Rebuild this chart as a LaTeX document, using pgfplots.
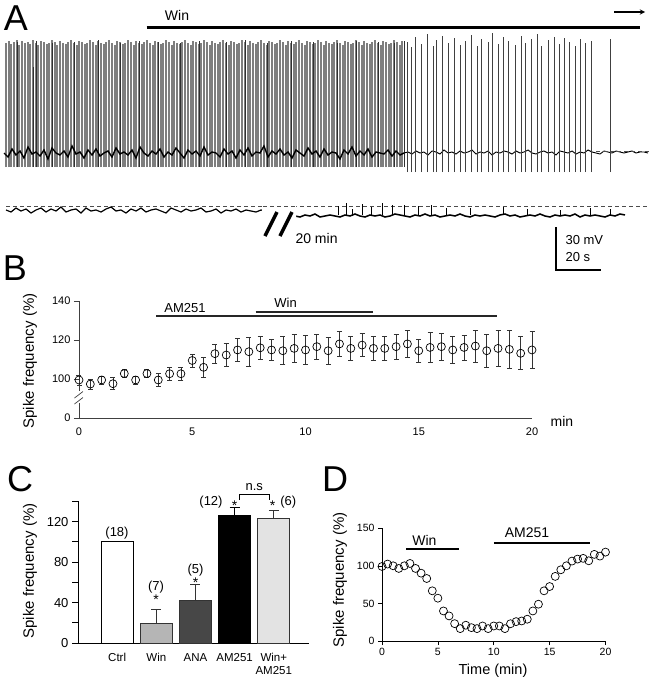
\documentclass[border=0pt]{standalone}
\usepackage{pgfplots}
\pgfplotsset{compat=1.18}
\usepackage{fontspec}
\setmainfont{Liberation Sans}
\newcommand{\f}[1]{\fontsize{#1}{#1}\selectfont}
\definecolor{sg}{HTML}{7E7E7E}
\definecolor{sd}{HTML}{303030}
\definecolor{winc}{HTML}{B5B5B5}
\definecolor{anac}{HTML}{474747}
\definecolor{wamc}{HTML}{E3E3E3}
\begin{document}
\begin{tikzpicture}[x=1pt,y=-1pt]
\useasboundingbox (0,0) rectangle (651,683);
% ---------------- Panel A: trace 1 (dense spikes) ----------------
\begin{axis}[at={(0pt,-167pt)}, anchor=south west, scale only axis, width=651pt, height=167pt,
  xmin=0, xmax=651, ymin=0, ymax=167, hide axis, clip=false]
\addplot[ycomb, draw=sg, line width=1.5pt, mark=none] coordinates {
(6,124)(9,126)(11,123)(14,125)(17,127)(19,122)(22,126)(25,124)(28,125)(30,123)
(33,127)(36,124)(38,122)(41,126)(44,125)(47,123)(49,124)(52,127)(55,125)(57,122)
(60,126)(63,124)(66,123)(68,125)(71,127)(74,124)(77,122)(79,126)(82,125)(85,123)
(87,124)(90,127)(93,125)(96,122)(98,126)(101,124)(104,123)(106,125)(109,127)(112,124)
(115,122)(117,126)(120,125)(123,123)(125,124)(128,127)(131,125)(134,122)(136,126)(139,124)
(142,123)(144,125)(147,127)(150,124)(153,122)(155,126)(158,125)(161,123)(163,124)(166,127)
(169,125)(172,122)(174,126)(177,124)(180,123)(182,125)(185,127)(188,124)(191,122)(193,126)
(196,125)(199,123)(201,124)(204,127)(207,125)(210,122)(212,126)(215,124)(218,123)(220,125)
(223,127)(226,124)(229,122)(231,126)(234,125)(237,123)(239,124)(242,127)(245,125)(248,122)
(250,126)(253,124)(256,123)(258,125)(261,127)(264,124)(267,122)(269,126)(272,125)(275,123)
(277,124)(280,127)(283,125)(286,122)(288,126)(291,124)(294,123)(296,125)(299,127)(302,124)
(305,122)(307,126)(310,125)(313,123)(315,124)(318,127)(321,125)(324,122)(326,126)(329,124)
(332,123)(334,125)(337,127)(340,124)(343,122)(345,126)(348,125)(351,123)(353,124)(356,127)
(359,125)(362,122)(364,126)(367,124)(370,123)(372,125)(375,127)(378,124)(381,122)(383,126)
(386,125)(389,123)(391,124)(394,127)(397,125)(400,122)(402,126)};
\addplot[ycomb, draw=sd, line width=1pt, mark=none] coordinates {
(17,125)(33,100)(36,126)(52,124)(74,125)(98,127)(120,124)(139,126)(158,125)(180,124)
(199,126)(226,125)(245,127)(267,124)(291,126)(313,125)(337,124)(356,126)(378,125)(394,124)(404,126)};
\addplot[black, line width=1.4pt] coordinates {
(4,14)(8,10)(12,18)(16,12)(20,16)(24,9)(28,20)(32,13)(36,15)(40,11)
(44,17)(48,8)(52,19)(56,14)(60,12)(64,16)(68,10)(72,21)(76,13)(80,15)
(84,9)(88,17)(92,12)(96,18)(100,11)(104,14)(108,16)(112,10)(116,19)(120,13)
(124,15)(128,12)(132,17)(136,9)(140,20)(144,14)(148,11)(152,16)(156,13)(160,18)
(164,10)(168,15)(172,12)(176,19)(180,14)(184,9)(188,17)(192,13)(196,16)(200,11)
(204,20)(208,12)(212,15)(216,14)(220,10)(224,18)(228,13)(232,16)(236,9)(240,17)
(244,12)(248,19)(252,11)(256,15)(260,14)(264,21)(268,10)(272,16)(276,13)(280,18)
(284,12)(288,15)(292,9)(296,17)(300,14)(304,11)(308,19)(312,13)(316,16)(320,10)
(324,18)(328,12)(332,15)(336,14)(340,8)(344,17)(348,13)(352,20)(356,11)(360,16)
(364,12)(368,18)(372,10)(376,15)(380,14)(384,13)(388,17)(392,11)(396,16)(400,12)
(404,14)};
\addplot[black, line width=0.9pt] coordinates {
(404,14)(408,15)(412,13)(416,16)(420,14)(424,15)(428,12)(432,16)(436,15)(440,13)(444,17)
(448,14)(452,15)(456,13)(460,16)(464,14)(468,15)(472,17)(476,13)(480,15)(484,14)
(488,16)(492,12)(496,15)(500,14)(504,16)(508,15)(512,13)(516,16)(520,14)(524,15)
(528,17)(532,14)(536,13)(540,15)(544,16)(548,14)(552,15)(556,12)(560,16)(564,15)
(568,14)(572,16)(576,13)(580,15)(584,14)(588,17)(592,15)(596,14)(600,13)(604,16)
(608,15)(612,14)(616,16)(620,15)(624,14)(628,15)(632,16)(636,14)(640,15)(644,15)(648,14)};
\addplot[black!70, line width=0.6pt, dash pattern=on 4pt off 3pt] coordinates {(596,16)(650,16)};
\end{axis}
% ---------------- Panel A: trace 1 (sparse spikes) ----------------
\begin{axis}[at={(0pt,-172pt)}, anchor=south west, scale only axis, width=651pt, height=172pt,
  xmin=0, xmax=651, ymin=0, ymax=172, hide axis, clip=false]
\addplot[ycomb, draw=black!75, line width=0.9pt, mark=none] coordinates {
(407,130)(411,125)(415,135)(421,128)(427,138)(433,126)(436,132)(442,136)(448,129)(454,134)
(460,127)(465,131)(471,137)(477,126)(481,133)(488,130)(492,139)(498,128)(503,135)(508,131)
(515,127)(521,136)(525,129)(531,133)(537,138)(541,126)(548,132)(554,135)(559,128)(564,134)
(569,130)(575,126)(580,133)(585,129)(591,131)(610,133)};
\end{axis}
% ---------------- Panel A: trace 2 ----------------
\begin{axis}[at={(0pt,-230pt)}, anchor=south west, scale only axis, width=651pt, height=230pt,
  xmin=0, xmax=651, ymin=0, ymax=230, hide axis, clip=false]
\addplot[black!70, line width=0.6pt, dash pattern=on 4pt off 3pt] coordinates {(6,24)(648,24)};
\addplot[black, line width=1.2pt] coordinates {
(6,20)(11,18)(16,22)(21,19)(26,21)(31,17)(36,20)(41,22)(46,18)(51,21)(56,19)(61,23)(66,18)
(71,20)(76,21)(81,17)(86,22)(91,19)(96,20)(101,18)(106,21)(111,23)(116,19)(121,20)(126,17)
(131,21)(136,19)(141,22)(146,18)(151,20)(156,21)(161,19)(166,17)(171,22)(176,20)(181,18)
(186,21)(191,19)(196,20)(201,22)(206,18)(211,19)(216,21)(221,17)(226,20)(231,19)(236,21)
(241,18)(246,20)(251,19)(256,18)(261,20)(266,19)};
\addplot[black, line width=1.5pt] coordinates {
(290,15)(295,14)(300,13)(305,15)(310,14)(315,16)(320,13)(325,14)(330,15)(335,14)(340,13)
(345,15)(350,14)(355,16)(360,14)(365,13)(370,15)(375,14)(380,15)(385,13)(390,14)(395,16)
(400,15)(405,14)(410,13)(415,15)(420,14)(425,16)(430,14)(435,15)(440,13)(445,14)(450,15)
(455,14)(460,16)(465,14)(470,13)(475,15)(480,14)(485,15)(490,14)(495,13)(500,15)(505,16)
(510,14)(515,15)(520,13)(525,14)(530,15)(535,14)(540,16)(545,14)(550,13)(555,15)(560,14)
(565,15)(570,14)(575,16)(580,13)(585,15)(590,14)(595,15)(600,14)(605,13)(610,15)(615,14)
(620,16)(625,15)};
\addplot[draw=none, mark=none, error bars/.cd, y dir=plus, y explicit, error mark=none,
  error bar style={draw=black, line width=0.6pt}] coordinates {
(338,15)+-(0,9)(346,15)+-(0,12)(352,14)+-(0,7)(362,15)+-(0,11)(371,14)+-(0,9)(382,15)+-(0,12)
(392,15)+-(0,10)(404,14)+-(0,11)(418,15)+-(0,9)(431,15)+-(0,10)(446,14)+-(0,8)(470,15)+-(0,7)
(503,15)+-(0,8)(527,15)+-(0,6)(560,14)+-(0,6)(590,15)+-(0,7)(610,15)+-(0,6)};
\end{axis}
% Panel A annotations
\node[font=\f{36}] at (16,18) {A};
\node[font=\f{14}] at (177,15.5) {Win};
\draw[line width=3.3pt] (146.7,27.5) -- (640,27.5);
\draw[line width=1.3pt,-stealth] (614,12) -- (645,12);
\fill[white] (262,200) -- (276,200) -- (296,200) -- (296,240) -- (262,240) -- cycle;
\draw[line width=0.6pt, black!70, dash pattern=on 4pt off 3pt] (263,206) -- (296,206);
\draw[line width=3.5pt] (265,236) -- (277,212);
\draw[line width=3.5pt] (280,236) -- (292,212);
\node[font=\f{14}, anchor=west] at (292,238) {20 min};
\draw[line width=1.2pt] (556,227) -- (556,270) -- (601,270);
\node[font=\f{13}, anchor=west] at (562,240) {30 mV};
\node[font=\f{13}, anchor=west] at (562,257) {20 s};
% ---------------- Panel B ----------------
\begin{axis}[at={(79pt,-418pt)}, anchor=south west, scale only axis, width=453pt, height=117pt,
  xmin=0, xmax=20, ymin=80, ymax=140, axis lines*=left,
  axis line style={line width=0.7pt, black!75},
  xtick={0,5,10,15,20}, ytick={80,100,120,140}, yticklabels={0,100,120,140},
  tick align=outside, major tick length=5pt, major x tick style={draw=none},
  major y tick style={line width=0.7pt, black!75},
  ticklabel style={font=\f{11}}, /pgf/number format/assume math mode=true,
  xticklabel style={yshift=-1pt}, clip=false]
\addplot[black!85, line width=2pt] coordinates {(3.4,132.3)(18.47,132.3)};
\addplot[black!85, line width=2pt] coordinates {(7.8,134.2)(13.0,134.2)};
\node[font=\f{13}] at (axis cs:4.68,136.3) {AM251};
\node[font=\f{13}] at (axis cs:9.12,139) {Win};
\addplot[only marks, mark=o, mark size=4pt, mark options={fill=white, line width=0.7pt, black},
  error bars/.cd, y dir=both, y explicit,
  error bar style={line width=0.7pt, black!80},
  error mark options={rotate=90, mark size=2.5pt, line width=0.7pt, black!80}] coordinates {
(0,99.5)+-(0,2.5)(0.5,97.4)+-(0,2.5)(1,99.5)+-(0,2)(1.5,97.6)+-(0,3)(2,102.8)+-(0,2)
(2.5,99.5)+-(0,2)(3,102.8)+-(0,2.2)(3.5,99.5)+-(0,3.5)(4,102.7)+-(0,3.5)(4.5,102.7)+-(0,3.5)
(5,109.5)+-(0,3.3)(5.5,106)+-(0,5)(6,113)+-(0,5)(6.5,112.3)+-(0,6)(7,114.9)+-(0,5.8)
(7.5,114)+-(0,7.4)(8,116)+-(0,5.7)(8.5,114.9)+-(0,5.2)(9,114.5)+-(0,7.2)(9.5,115.7)+-(0,7)
(10,114.9)+-(0,7.3)(10.5,116.6)+-(0,6.5)(11,114.5)+-(0,7)(11.5,118)+-(0,6.3)(12,115.7)+-(0,6)
(12.5,117.4)+-(0,5.8)(13,115.7)+-(0,6.3)(13.5,115.7)+-(0,6.3)(14,116.6)+-(0,6.5)(14.5,118)+-(0,6.8)
(15,114.5)+-(0,6)(15.5,116.2)+-(0,7.6)(16,116.6)+-(0,6.8)(16.5,114.9)+-(0,7.1)(17,116.2)+-(0,6.4)
(17.5,116.9)+-(0,8.2)(18,114.5)+-(0,8.5)(18.5,115.7)+-(0,9.1)(19,115.2)+-(0,9.6)(19.5,113.2)+-(0,8.5)
(20,114.9)+-(0,9.4)};
\end{axis}
\fill[white] (75,391) rectangle (83,403);
\draw[line width=0.7pt, black!75] (74.5,398) -- (83,391.5);
\draw[line width=0.7pt, black!75] (74.5,404) -- (83,397.5);
\node[font=\f{36}] at (15,268) {B};
\node[font=\f{15}, rotate=90] at (30,361) {Spike frequency (\%)};
\node[font=\f{14}] at (562,421) {min};
% ---------------- Panel C ----------------
\begin{axis}[at={(78pt,-643pt)}, anchor=south west, scale only axis, width=231pt, height=141.6pt,
  xmin=0, xmax=5.9, ymin=0, ymax=140, axis lines*=left,
  axis line style={line width=0.8pt, black},
  ytick={0,20,...,140}, yticklabels={0,,40,,80,,120,},
  xtick={1,2,3,4,5}, xticklabels={Ctrl,Win,ANA,AM251,{Win+\\AM251}},
  xticklabel style={align=center, font=\fontsize{11.5}{12.5}\selectfont, inner xsep=0pt, yshift=-1pt},
  yticklabel style={font=\f{13}},
  tick align=outside, major tick length=6pt, major x tick style={draw=none},
  major y tick style={line width=0.8pt, black},
  /pgf/number format/assume math mode=true, clip=false]
\addplot[ybar, bar width=32pt, draw=black, line width=0.8pt, fill=white] coordinates {(1,100)};
\addplot[ybar, bar width=32pt, draw=black!80, line width=0.8pt, fill=winc,
  error bars/.cd, y dir=plus, y explicit, error bar style={line width=0.9pt, black!80},
  error mark options={rotate=90, mark size=5pt, line width=0.9pt, black!80}] coordinates {(2,19)+-(0,14)};
\addplot[ybar, bar width=32pt, draw=black!80, line width=0.8pt, fill=anac,
  error bars/.cd, y dir=plus, y explicit, error bar style={line width=0.9pt, black!80},
  error mark options={rotate=90, mark size=5pt, line width=0.9pt, black!80}] coordinates {(3,42)+-(0,15.5)};
\addplot[ybar, bar width=32pt, draw=black, line width=0.8pt, fill=black,
  error bars/.cd, y dir=plus, y explicit, error bar style={line width=0.9pt, black},
  error mark options={rotate=90, mark size=5pt, line width=0.9pt, black}] coordinates {(4,126)+-(0,7.6)};
\addplot[ybar, bar width=32pt, draw=black!80, line width=0.8pt, fill=wamc,
  error bars/.cd, y dir=plus, y explicit, error bar style={line width=0.9pt, black!80},
  error mark options={rotate=90, mark size=5pt, line width=0.9pt, black!80}] coordinates {(5,123.4)+-(0,7.5)};
\end{axis}
\node[font=\f{36}] at (20,479) {C};
\node[font=\f{15}, rotate=90] at (30,571) {Spike frequency (\%)};
\node[font=\f{13}] at (117,533) {(18)};
\node[font=\f{13}] at (156,587) {(7)};
\node[font=\f{14}] at (156,600) {*};
\node[font=\f{13}] at (195.5,570) {(5)};
\node[font=\f{14}] at (195.5,583) {*};
\node[font=\f{13}] at (211,502) {(12)};
\node[font=\f{14}] at (234.5,506) {*};
\node[font=\f{14}] at (272.7,506) {*};
\node[font=\f{13}] at (288.3,502) {(6)};
\node[font=\f{13}] at (254.3,487) {n.s};
\draw[line width=0.9pt] (239.3,500) -- (239.3,494) -- (269,494) -- (269,500);
% ---------------- Panel D ----------------
\begin{axis}[at={(382pt,-641pt)}, anchor=south west, scale only axis, width=223.5pt, height=112.7pt,
  xmin=0, xmax=20, ymin=0, ymax=150, axis lines*=left,
  axis line style={line width=0.7pt, black},
  xtick={0,5,10,15,20}, ytick={0,50,100,150},
  tick align=outside, major tick length=4pt,
  major tick style={line width=0.7pt, black},
  ticklabel style={font=\f{10.5}}, /pgf/number format/assume math mode=true, clip=false]
\addplot[black, line width=2pt] coordinates {(2.15,122)(6.93,122)};
\addplot[black, line width=2pt] coordinates {(10.0,131)(18.6,131)};
\node[font=\f{14}] at (axis cs:3.8,134.5) {Win};
\node[font=\f{14}] at (axis cs:12.97,144) {AM251};
\addplot[only marks, mark=o, mark size=4pt, mark options={fill=white, line width=0.7pt, black}] coordinates {
(0,99.2)(0.5,102.4)(1,100.1)(1.5,96.6)(2,100.1)(2.5,103.2)(3,96.6)(3.5,90.3)(4,83.2)(4.5,66.8)
(5,57)(5.5,40)(6,33.4)(6.5,23.1)(7,16.5)(7.5,21)(8,17.8)(8.5,16.5)(9,20)(9.5,16.5)
(10,20)(10.5,20)(11,16.5)(11.5,23)(12,25.8)(12.5,26.7)(13,29)(13.5,40)(14,49)(14.5,66.8)
(15,72.5)(15.5,86)(16,94.8)(16.5,100.1)(17,106.4)(17.5,109)(18,110)(18.5,106.8)(19,115.3)
(19.5,113)(20,118.3)};
\end{axis}
\node[font=\f{36}] at (335,479) {D};
\node[font=\f{15}, rotate=90] at (340,580) {Spike frequency (\%)};
\node[font=\f{14.5}] at (493,671) {Time (min)};
\end{tikzpicture}
\end{document}
